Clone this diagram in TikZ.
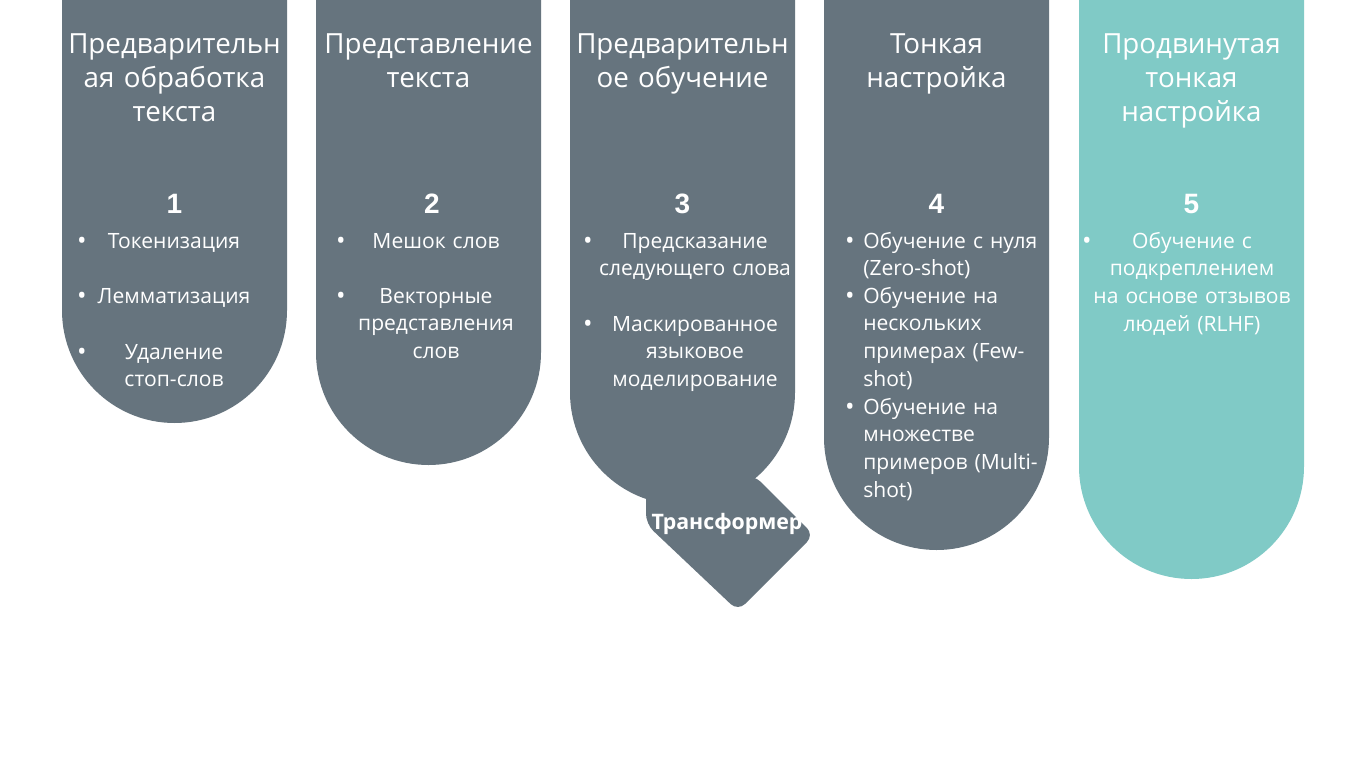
\documentclass[tikz,border=0pt]{standalone}
\usepackage{fontspec}
\setmainfont{Open Sans}
\newfontfamily\numfont{Liberation Sans}
\definecolor{slate}{HTML}{66747E}
\definecolor{aqua}{HTML}{80CAC6}

\begin{document}
\begin{tikzpicture}[x=0.75pt, y=-0.75pt,
  title/.style={text=white, font=\fontsize{20.8}{25.5}\selectfont, align=center, text width=190pt, anchor=base, inner sep=0pt},
  number/.style={text=white, font=\numfont\bfseries\fontsize{21}{24}\selectfont, anchor=base, inner sep=0pt},
  item/.style={text=white, font=\fontsize{15.8}{20.8}\selectfont, align=center, text width=165pt, anchor=base, inner sep=0pt},
  itemleft/.style={item, align=left, text width=150pt, anchor=base west},
  dot/.style={text=white, font=\fontsize{19}{20.8}\selectfont, anchor=base, inner sep=0pt}]

  \newcommand\R{84.375pt};

  \fill[white] (0,0) rectangle (1365,768);
  \useasboundingbox (0,0) rectangle (1365,768);

  % columns
  \fill[slate] (62,-2) -- (62,310.5) arc[start angle=180, end angle=360, radius=\R] -- (287,-2) -- cycle; %% 1
  \fill[slate] (316,-2) -- (316,352.5) arc[start angle=180, end angle=360, radius=\R] -- (541,-2) -- cycle; %% 2
  \fill[slate] (570,-2) -- (570,392.5) arc[start angle=180, end angle=360, radius=\R] -- (795,-2) -- cycle; %% 3
  \fill[slate] (824,-2) -- (824,437.5) arc[start angle=180, end angle=360, radius=\R] -- (1049,-2) -- cycle; %% 4
  \fill[aqua] (1079,-2) -- (1079,466.5) arc[start angle=180, end angle=360, radius=\R] -- (1304,-2) -- cycle; %% 5

  % tab under column 3
  \fill[slate, rounded corners=7.5pt] (646,488) -- (646,524) -- (738,611) -- (814,535) -- (754,475) -- cycle;
  \node[text=white, font=\bfseries\fontsize{16}{18}\selectfont, anchor=base, inner sep=0pt] (tf) at (727,529) {Трансформер};

  % titles
  \node[title] (t1) at (174.5,53) {Предварительн\\ая обработка\\текста};
  \node[title] (t2) at (428.5,53) {Представление\\текста};
  \node[title] (t3) at (682.5,53) {Предварительн\\ое обучение};
  \node[title] (t4) at (936.5,53) {Тонкая\\настройка};
  \node[title] (t5) at (1191.5,53) {Продвинутая\\тонкая\\настройка};

  % numbers
  \node[number] (n1) at (174.5,213) {1};
  \node[number] (n2) at (432,213) {2};
  \node[number] (n3) at (682.5,213) {3};
  \node[number] (n4) at (936.5,213) {4};
  \node[number] (n5) at (1191.5,213) {5};

  % column 1
  \node[dot] (d11) at (82,249) {•};
  \node[item] (i11) at (174,248) {Токенизация};
  \node[dot] (d12) at (82,304) {•};
  \node[item] (i12) at (174,303) {Лемматизация};
  \node[dot] (d13) at (82,360) {•};
  \node[item] (i13) at (174,359) {Удаление\\стоп-слов};

  % column 2
  \node[dot] (d21) at (341,249) {•};
  \node[item] (i21) at (436,248) {Мешок слов};
  \node[dot] (d22) at (341,304) {•};
  \node[item] (i22) at (436,303) {Векторные\\представления\\слов};

  % column 3
  \node[dot] (d31) at (588,249) {•};
  \node[item] (i31) at (695,248) {Предсказание\\следующего слова};
  \node[dot] (d32) at (588,332) {•};
  \node[item] (i32) at (695,331) {Маскированное\\языковое\\моделирование};

  % column 4
  \node[dot] (d41) at (850,249) {•};
  \node[itemleft] (i41) at (863,248) {Обучение с нуля\\(Zero-shot)};
  \node[dot] (d42) at (850,304) {•};
  \node[itemleft] (i42) at (863,303) {Обучение на\\нескольких\\примерах (Few-\\shot)};
  \node[dot] (d43) at (850,415) {•};
  \node[itemleft] (i43) at (863,414) {Обучение на\\множестве\\примеров (Multi-\\shot)};

  % column 5
  \node[dot] (d51) at (1087,249) {•};
  \node[item] (i51) at (1192,248) {Обучение с\\подкреплением\\на основе отзывов\\людей (RLHF)};
\end{tikzpicture}
\end{document}
